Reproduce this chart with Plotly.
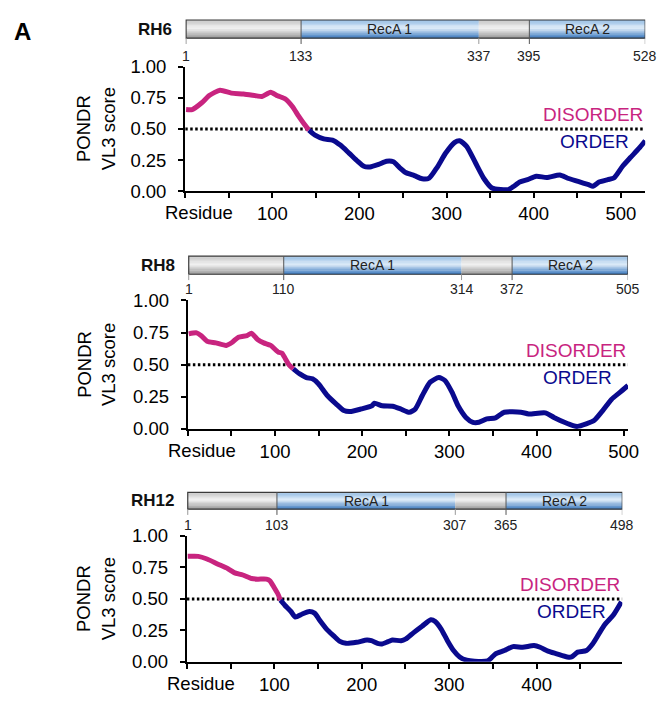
import plotly.graph_objects as go

W, H = 670, 709

# ---------------- data ----------------
rh6_res = [1, 8, 19, 28, 40, 53, 67, 82, 88, 98, 106, 115, 123, 130, 137, 142, 149, 159, 169, 178,
           188, 198, 205, 212, 222, 231, 239, 246, 253, 263, 272, 280, 289, 299, 309, 315, 323, 333,
           343, 352, 362, 371, 376, 384, 393, 403, 415, 430, 439, 451, 463, 468, 475, 485, 492, 502,
           511, 521, 528]
rh6_score = [0.655, 0.655, 0.71, 0.77, 0.81, 0.787, 0.78, 0.765, 0.76, 0.795, 0.766, 0.74, 0.68, 0.605,
             0.535, 0.49, 0.45, 0.42, 0.41, 0.37, 0.306, 0.24, 0.20, 0.195, 0.215, 0.24, 0.236, 0.19,
             0.15, 0.125, 0.10, 0.105, 0.19, 0.306, 0.39, 0.405, 0.36, 0.23, 0.10, 0.026, 0.013, 0.013,
             0.034, 0.073, 0.093, 0.12, 0.11, 0.13, 0.104, 0.078, 0.052, 0.04, 0.073, 0.093, 0.106,
             0.20, 0.27, 0.345, 0.405]

rh8_res = [1, 10, 15, 22, 32, 44, 51, 58, 68, 73, 80, 87, 95, 104, 108, 112, 116, 121, 128, 136, 143,
           150, 160, 170, 179, 186, 199, 211, 214, 223, 235, 244, 254, 261, 269, 278, 288, 295, 303,
           310, 319, 327, 334, 343, 353, 363, 382, 391, 410, 420, 432, 442, 447, 457, 466, 476, 486,
           496, 505]
rh8_score = [0.74, 0.748, 0.727, 0.683, 0.67, 0.65, 0.675, 0.714, 0.727, 0.745, 0.696, 0.67, 0.65,
             0.597, 0.59, 0.545, 0.50, 0.468, 0.43, 0.40, 0.39, 0.35, 0.26, 0.195, 0.143, 0.135, 0.156,
             0.18, 0.20, 0.18, 0.177, 0.156, 0.13, 0.156, 0.26, 0.364, 0.40, 0.377, 0.286, 0.18, 0.09,
             0.052, 0.052, 0.078, 0.086, 0.13, 0.13, 0.117, 0.125, 0.09, 0.052, 0.026, 0.02, 0.039,
             0.065, 0.143, 0.23, 0.286, 0.338]

rh12_res = [1, 13, 23, 35, 47, 54, 64, 74, 81, 91, 95, 100, 104, 107, 112, 119, 124, 132, 140, 146,
            153, 160, 168, 175, 182, 194, 206, 211, 218, 223, 230, 235, 245, 250, 259, 269, 279, 284,
            291, 298, 305, 312, 320, 329, 344, 348, 353, 363, 373, 384, 397, 404, 413, 423, 435, 440,
            447, 457, 464, 471, 478, 488, 497]
rh12_score = [0.838, 0.838, 0.817, 0.778, 0.74, 0.709, 0.69, 0.662, 0.657, 0.657, 0.644, 0.588, 0.541,
              0.49, 0.45, 0.40, 0.356, 0.38, 0.40, 0.387, 0.32, 0.258, 0.206, 0.162, 0.147, 0.155,
              0.173, 0.168, 0.147, 0.142, 0.16, 0.173, 0.168, 0.18, 0.23, 0.283, 0.335, 0.32, 0.258,
              0.168, 0.09, 0.039, 0.013, 0.005, 0.008, 0.03, 0.064, 0.09, 0.121, 0.116, 0.129, 0.116,
              0.085, 0.064, 0.039, 0.039, 0.077, 0.09, 0.142, 0.22, 0.296, 0.374, 0.477]

rh6_bounds = [1, 133, 337, 395, 528]
rh8_bounds = [1, 110, 314, 372, 505]
rh12_bounds = [1, 103, 307, 365, 498]
segment_names = ["", "RecA 1", "", "RecA 2"]
protein_names = ["RH6", "RH8", "RH12"]

y_tick_vals = [0, 0.25, 0.5, 0.75, 1.0]
y_tick_text = ["0.00", "0.25", "0.50", "0.75", "1.00"]
x_tick_vals = [100, 200, 300, 400, 500]
x_tick_text = ["100", "200", "300", "400", "500"]
threshold = 0.5

# ---------------- styling ----------------
FONT = "Arial, Liberation Sans, sans-serif"
C_DIS = "#C8247F"
C_ORD = "#0A0A8E"
GRAY_STOPS = [(0.0, (195, 195, 195)), (0.45, (242, 242, 242)), (1.0, (150, 150, 150))]
BLUE_STOPS = [(0.0, (145, 186, 226)), (0.45, (222, 236, 249)), (1.0, (55, 118, 188))]


def grad(stops, t):
    for (t0, c0), (t1, c1) in zip(stops[:-1], stops[1:]):
        if t0 <= t <= t1:
            f = (t - t0) / (t1 - t0)
            c = [round(a + (b - a) * f) for a, b in zip(c0, c1)]
            return "rgb(%d,%d,%d)" % tuple(c)
    return "rgb(%d,%d,%d)" % stops[-1][1]


def py(p):
    return 1 - p / H


def px(p):
    return p / W


panels = [
    dict(res=rh6_res, score=rh6_score, bounds=rh6_bounds, xmax=528,
         xpix=(188.3, 656.0), ypix=(57.3, 185.7), bar=(9.3, 28.0), lab=46.7),
    dict(res=rh8_res, score=rh8_score, bounds=rh8_bounds, xmax=505,
         xpix=(191.0, 638.5), ypix=(298.3, 430.7), bar=(252.7, 271.3), lab=286.7),
    dict(res=rh12_res, score=rh12_score, bounds=rh12_bounds, xmax=498,
         xpix=(190.0, 632.7), ypix=(541.0, 670.7), bar=(496.0, 513.3), lab=530.0),
]

fig = go.Figure()
shapes = []
annotations = []
layout = {}

for i, p in enumerate(panels):
    sfx = "" if i == 0 else str(i + 1)
    xr, yr = "x" + sfx, "y" + sfx
    res, score = p["res"], p["score"]
    k = next(j for j, s in enumerate(score) if s < threshold)
    # threshold line
    fig.add_trace(go.Scatter(x=[0, p["xmax"]], y=[threshold, threshold], mode="lines",
                             xaxis=xr, yaxis=yr,
                             line=dict(color="black", width=3, dash="2.5px,2.5px"),
                             showlegend=False, hoverinfo="skip"))
    fig.add_trace(go.Scatter(x=res[:k + 1], y=score[:k + 1], mode="lines", xaxis=xr, yaxis=yr,
                             line=dict(color=C_DIS, width=5, shape="spline", smoothing=0.6),
                             showlegend=False, hoverinfo="skip"))
    fig.add_trace(go.Scatter(x=res[k:], y=score[k:], mode="lines", xaxis=xr, yaxis=yr,
                             line=dict(color=C_ORD, width=5, shape="spline", smoothing=0.6),
                             showlegend=False, hoverinfo="skip"))

    axstyle = dict(showline=True, linecolor="black", linewidth=2.2, ticks="outside", ticklen=5,
                   tickwidth=2.2, tickcolor="black", showgrid=False, zeroline=False,
                   tickfont=dict(family=FONT, size=18.5, color="black"))
    layout["xaxis" + sfx] = dict(axstyle, domain=[px(p["xpix"][0]), px(p["xpix"][1])],
                                 range=[0, p["xmax"]], anchor=yr,
                                 tickvals=x_tick_vals, ticktext=x_tick_text,
                                 minor=dict(ticks="outside", dtick=50, tick0=0, ticklen=5,
                                            tickwidth=2.2, tickcolor="black", showgrid=False))
    layout["yaxis" + sfx] = dict(axstyle, domain=[py(p["ypix"][1]), py(p["ypix"][0])],
                                 range=[0, 1], anchor=xr, tickvals=y_tick_vals,
                                 ticktext=y_tick_text, ticklabelstandoff=8)

    # domain bar with gradient
    b = p["bounds"]
    top, bot = p["bar"]
    n = 14
    for j in range(4):
        stops = GRAY_STOPS if segment_names[j] == "" else BLUE_STOPS
        for s in range(n):
            t = (s + 0.5) / n
            shapes.append(dict(type="rect", xref=xr, yref="paper",
                               x0=b[j], x1=b[j + 1],
                               y0=py(top + (bot - top) * s / n),
                               y1=py(top + (bot - top) * (s + 1) / n) - 0.0005,
                               line=dict(width=0), fillcolor=grad(stops, t), layer="above"))
        if segment_names[j]:
            annotations.append(dict(xref=xr, yref="paper", x=(b[j] + b[j + 1]) / 2,
                                    y=py((top + bot) / 2), text=segment_names[j], showarrow=False,
                                    font=dict(family=FONT, size=14, color="#222"),
                                    xanchor="center", yanchor="middle"))
    shapes.append(dict(type="rect", xref=xr, yref="paper", x0=b[0], x1=b[-1],
                       y0=py(bot), y1=py(top), line=dict(color="#3a3a3a", width=1.2),
                       fillcolor="rgba(0,0,0,0)", layer="above"))
    for j, v in enumerate(b):
        full = j in (1, 3)
        shapes.append(dict(type="line", xref=xr, yref="paper", x0=v, x1=v,
                           y0=py(bot + 6), y1=py(top if full else bot),
                           line=dict(color="#555" if full else "#999", width=1), layer="above"))
        annotations.append(dict(xref=xr, yref="paper", x=v, y=py(p["lab"]), text=str(v),
                                showarrow=False, font=dict(family=FONT, size=14, color="#222"),
                                xanchor="center", yanchor="middle"))
    annotations.append(dict(xref="paper", yref="paper", x=px(p["xpix"][0] - 11),
                            y=py((top + bot) / 2), text="<b>%s</b>" % protein_names[i],
                            showarrow=False, font=dict(family=FONT, size=17, color="#111"),
                            xanchor="right", yanchor="middle"))
    # axis titles
    annotations.append(dict(xref="paper", yref="paper", x=px(98),
                            y=py((p["ypix"][0] + p["ypix"][1]) / 2),
                            text="PONDR<br>VL3 score", textangle=-90, showarrow=False,
                            font=dict(family=FONT, size=18.5, color="black"),
                            xanchor="center", yanchor="middle"))
    annotations.append(dict(xref=xr, yref="paper", x=57, y=py(p["ypix"][1] + 22),
                            text="Residue", showarrow=False,
                            font=dict(family=FONT, size=18.5, color="black"),
                            xanchor="right", yanchor="middle"))
    annotations.append(dict(xref=xr, yref=yr, x=p["xmax"], y=threshold, yshift=14,
                            text="DISORDER", showarrow=False,
                            font=dict(family=FONT, size=19, color=C_DIS),
                            xanchor="right", yanchor="middle"))
    annotations.append(dict(xref=xr, yref=yr, x=p["xmax"], xshift=-14, y=threshold, yshift=-13,
                            text="ORDER", showarrow=False,
                            font=dict(family=FONT, size=19, color=C_ORD),
                            xanchor="right", yanchor="middle"))

annotations.append(dict(xref="paper", yref="paper", x=px(23), y=py(21), text="<b>A</b>",
                        showarrow=False, font=dict(family=FONT, size=24, color="black"),
                        xanchor="center", yanchor="middle"))

fig.update_layout(width=W, height=H, margin=dict(l=0, r=0, t=0, b=0),
                  paper_bgcolor="white", plot_bgcolor="white",
                  shapes=shapes, annotations=annotations, showlegend=False, **layout)

fig.write_html("out.html")
